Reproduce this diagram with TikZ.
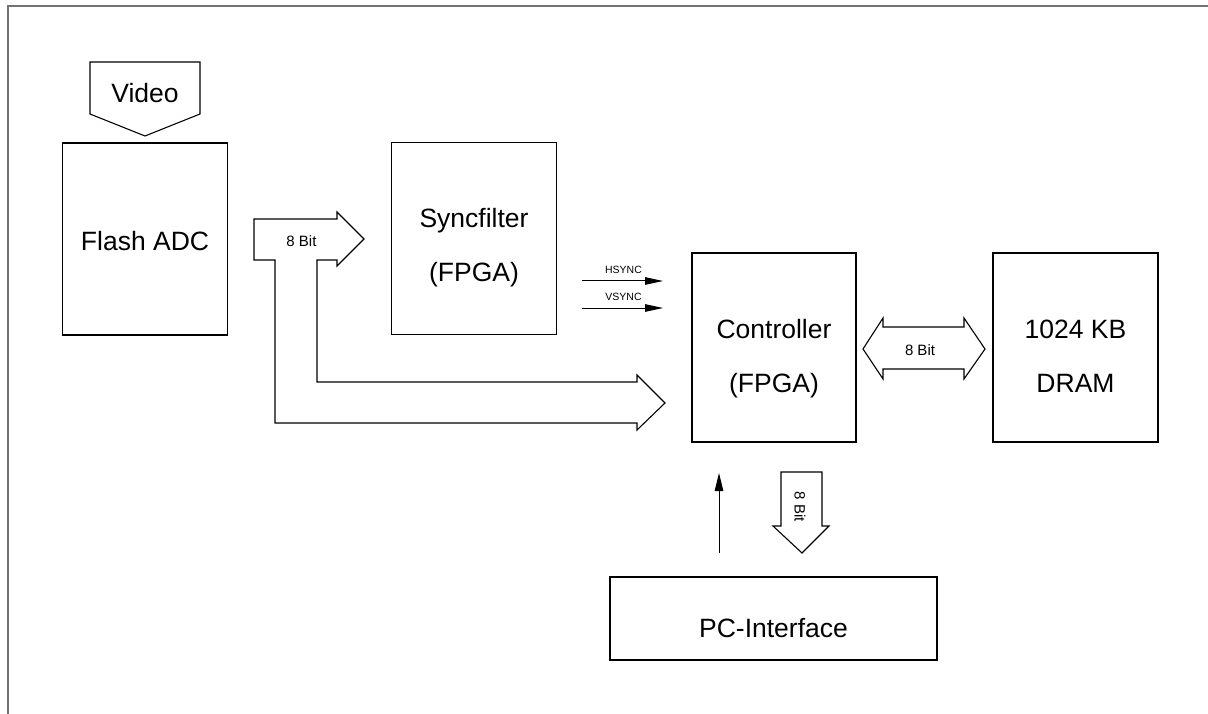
\documentclass[tikz,border=0pt]{standalone}
\usepackage{fontspec}
\setmainfont{Liberation Sans}
\usetikzlibrary{arrows.meta}
\begin{document}
\begin{tikzpicture}[x=1pt,y=-1pt,
  box/.style={draw=black, line width=1.6pt, inner sep=0pt},
  big/.style={font=\fontsize{26.5}{32}\selectfont, inner sep=0pt, anchor=base},
  small/.style={font=\fontsize{15}{18}\selectfont, inner sep=0pt, anchor=base},
  tiny/.style={font=\fontsize{10.5}{12}\selectfont, inner sep=0pt, anchor=base},
  fat/.style={draw=black, line width=1.1pt, fill=white, line join=miter},
  sig/.style={draw=black, line width=1pt, -{Triangle[length=18pt,width=7.5pt]}}]
\useasboundingbox (0,0) rectangle (1208,714);
% frame
\draw[draw=black!55, line width=2pt] (8,714) -- (8,6.5) -- (1208,6.5);
% boxes
\node[box, minimum width=165pt, minimum height=192pt] (adc) at (145,239) {};
\node[box, minimum width=165pt, minimum height=192pt] (sync) at (474,238.5) {};
\node[box, minimum width=164pt, minimum height=189pt] (ctrl) at (774,347.5) {};
\node[box, minimum width=165pt, minimum height=189pt] (dram) at (1075.5,347.5) {};
\node[box, minimum width=327pt, minimum height=83pt] (pc) at (773.5,618.5) {};
% texts
\node[big] (tadc) at (145,251) {Flash ADC};
\node[big] (tsync1) at (474,228) {Syncfilter};
\node[big] (tsync2) at (474,282) {(FPGA)};
\node[big] (tctrl1) at (774,338) {Controller};
\node[big] (tctrl2) at (774,392) {(FPGA)};
\node[big] (tdram1) at (1075.5,338) {1024 KB};
\node[big] (tdram2) at (1075.5,392) {DRAM};
\node[big] (tpc) at (773.5,637) {PC-Interface};
% video input
\draw[fat] (90,62) -- (200,62) -- (200,114) -- (145,136) -- (90,114) -- cycle;
\node[big] (tvideo) at (145,103) {Video};
% 8 bit bus from ADC to syncfilter and controller
\draw[fat] (254,219) -- (337,219) -- (337,212) -- (364,239) -- (337,266) -- (337,260)
  -- (317,260) -- (317,382) -- (637,382) -- (637,375) -- (665,403) -- (637,430)
  -- (637,423) -- (275,423) -- (275,260) -- (254,260) -- cycle;
\node[small] (tbus1) at (301.5,247) {8 Bit};
% HSYNC / VSYNC
\coordinate (hs0) at (582,281);
\coordinate (hs1) at (663,281);
\coordinate (vs0) at (582,308);
\coordinate (vs1) at (663,308);
\draw[sig] (hs0) -- (hs1);
\draw[sig] (vs0) -- (vs1);
\node[tiny] (thsync) at (623.5,273) {HSYNC};
\node[tiny] (tvsync) at (623.5,300) {VSYNC};
% controller <-> DRAM
\draw[fat] (863,349) -- (883,318) -- (883,327) -- (964,327) -- (964,318) -- (985,349)
  -- (964,379) -- (964,369) -- (883,369) -- (883,379) -- cycle;
\node[small] (tbus2) at (920,355) {8 Bit};
% PC interface -> controller
\coordinate (up0) at (719,553);
\coordinate (up1) at (719,473);
\draw[sig, -{Triangle[length=18pt,width=8.5pt]}] (up0) -- (up1);
% controller -> PC interface
\draw[fat] (781,472) -- (822,472) -- (822,526) -- (829,526) -- (802,553) -- (773,526)
  -- (781,526) -- cycle;
\node[small, rotate=-90, anchor=center] (tbus3) at (800,507) {8 Bit};
\end{tikzpicture}
\end{document}
